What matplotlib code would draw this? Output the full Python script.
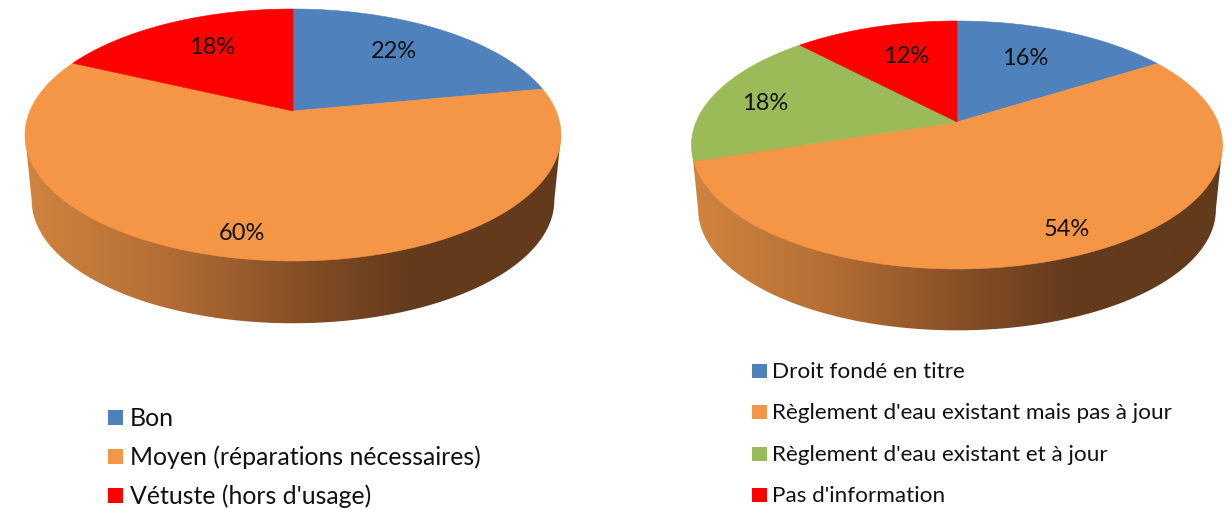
import numpy as np
import matplotlib
matplotlib.use('Agg')
import matplotlib.pyplot as plt
from matplotlib.colors import LinearSegmentedColormap
from matplotlib.patches import Polygon, Rectangle

plt.rcParams['font.family'] = ['Lato', 'DejaVu Sans']

# Left pie
left_names = ['Bon', 'Moyen (réparations nécessaires)', "Vétuste (hors d'usage)"]
left_values = [22, 60, 18]
left_colors = ['#4F81BD', '#F49646', '#FF0000']

# Right pie
right_names = ['Droit fondé en titre', "Règlement d'eau existant mais pas à jour",
               "Règlement d'eau existant et à jour", "Pas d'information"]
right_values = [16, 54, 18, 12]
right_colors = ['#4F81BD', '#F49646', '#9BBB59', '#FF0000']

# Positions in pixels
left_label_pos = [(394, 51), (242, 233), (212, 47)]
right_label_pos = [(1025, 58), (1067, 229), (765, 103), (906, 56)]
left_legend_rows = [418, 457, 496]
right_legend_rows = [372, 413, 455, 496]

wall_cmap = LinearSegmentedColormap.from_list(
    'wall', [(0, '#D0843F'), (0.25, '#B56F35'), (0.52, '#844E26'), (0.72, '#633A1C'), (1, '#633A1C')])

fig = plt.figure(figsize=(12.31, 5.09), dpi=100)
ax = fig.add_axes([0, 0, 1, 1])
ax.set_xlim(0, 1231)
ax.set_ylim(509, 0)
ax.axis('off')


def disk_point(theta, cx, cy, s, b, k):
    # theta clockwise from the top, perspective squeeze towards the back
    u, v = np.sin(theta), np.cos(theta)
    w = 1 + k * v
    return cx + s * u / w, cy - b * v / w


def draw_pie(values, colors, cx, cy, rx, up, down, depth):
    k = (down / up - 1) / (down / up + 1)
    b = up * (1 + k)
    s = rx * np.sqrt(1 - k ** 2)

    # side wall, front of the bottom disk joined to the widest points of the top disk
    side = np.arcsin(k)
    t = np.linspace(np.pi * 0.5 + side, np.pi * 1.5 - side, 300)
    xb, yb = disk_point(t, cx, cy + depth, s * 0.975, b * 0.975, k)
    xr, yr = disk_point(t[0], cx, cy, s, b, k)
    xl, yl = disk_point(t[-1], cx, cy, s, b, k)
    wall = np.column_stack([np.r_[xr, xb, xl], np.r_[yr, yb, yl]])
    patch = Polygon(wall, closed=True, fc='none', ec='none')
    ax.add_patch(patch)
    grad = np.linspace(0, 1, 256).reshape(1, -1)
    img = ax.imshow(grad, cmap=wall_cmap, extent=[cx - rx, cx + rx, 509, 0],
                    aspect='auto', zorder=1)
    img.set_clip_path(patch)

    # top face
    start = 0
    for val, col in zip(values, colors):
        end = start + val
        t = np.linspace(start, end, 120) / 100 * 2 * np.pi
        x, y = disk_point(t, cx, cy, s, b, k)
        pts = np.column_stack([np.r_[cx, x], np.r_[cy, y]])
        ax.add_patch(Polygon(pts, closed=True, fc=col, ec=col, lw=0.4, zorder=2))
        start = end


def draw_legend(names, colors, rows, x_box, size_box, x_text, fontsize):
    for name, col, row in zip(names, colors, rows):
        ax.add_patch(Rectangle((x_box, row - size_box / 2 - 1), size_box, size_box, fc=col, ec='none'))
        ax.text(x_text, row, name, fontsize=fontsize, va='center', ha='left', color='#111111')


draw_pie(left_values, left_colors, 293, 111, 268, 102, 150, 66)
draw_pie(right_values, right_colors, 957, 122, 265.5, 101, 147, 65)

for val, (x, y) in zip(left_values, left_label_pos):
    ax.text(x, y, f'{val}%', fontsize=17, ha='center', va='center', color='#111111', zorder=3)
for val, (x, y) in zip(right_values, right_label_pos):
    ax.text(x, y, f'{val}%', fontsize=17, ha='center', va='center', color='#111111', zorder=3)

draw_legend(left_names, left_colors, left_legend_rows, 108, 15, 130, 17.9)
draw_legend(right_names, right_colors, right_legend_rows, 752, 14.5, 772, 16.2)

fig.savefig('out.png', dpi=100)
